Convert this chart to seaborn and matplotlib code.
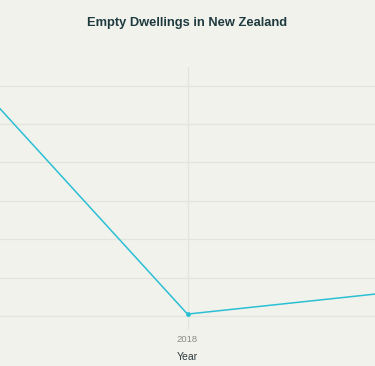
import matplotlib
matplotlib.use("Agg")
import matplotlib.pyplot as plt
import seaborn as sns
import pandas as pd

years = [2013, 2018, 2023]
empty_dwellings = [195100, 81000, 92100]
x_ticks = [2013, 2018, 2023]
x_tick_labels = ["", "2018", ""]
y_ticks = [80000, 100000, 120000, 140000, 160000, 180000, 200000]

bg = "#f2f2ed"
sns.set_theme(style="whitegrid")
plt.rcParams["font.family"] = ["Liberation Sans", "DejaVu Sans"]

df = pd.DataFrame({"Year": years, "Empty dwellings": empty_dwellings})

fig = plt.figure(figsize=(3.75, 3.66), dpi=100, facecolor=bg)
ax = fig.add_axes([-132.5 / 375, 36 / 366, 640 / 375, 263 / 366])
ax.set_facecolor(bg)

sns.lineplot(data=df, x="Year", y="Empty dwellings", ax=ax, color="#2bbfd4",
             linewidth=1.1, marker="o", markersize=3.5, markeredgewidth=0)

ax.set_xlim(2010, 2026)
ax.set_ylim(72708, 209687)
ax.set_xticks(x_ticks)
ax.set_xticklabels(x_tick_labels)
ax.set_yticks(y_ticks)
ax.set_yticklabels([])
ax.tick_params(axis="x", colors="#8a8a8a", labelsize=6.8, length=0, pad=3.5)
ax.tick_params(axis="y", length=0)
ax.grid(True, color="#e4e4de", linewidth=0.9)
for s in ax.spines.values():
    s.set_visible(False)
ax.set_ylabel("")
ax.set_xlabel("")

fig.text(0.5, 1 - 23 / 366, "Empty Dwellings in New Zealand", ha="center", va="center",
         fontsize=9.3, fontweight="bold", color="#1d3a3f")
fig.text(0.5, 1 - 357 / 366, "Year", ha="center", va="center", fontsize=7.5, color="#2e3b3e")

fig.savefig("out.png", dpi=100, facecolor=bg)
